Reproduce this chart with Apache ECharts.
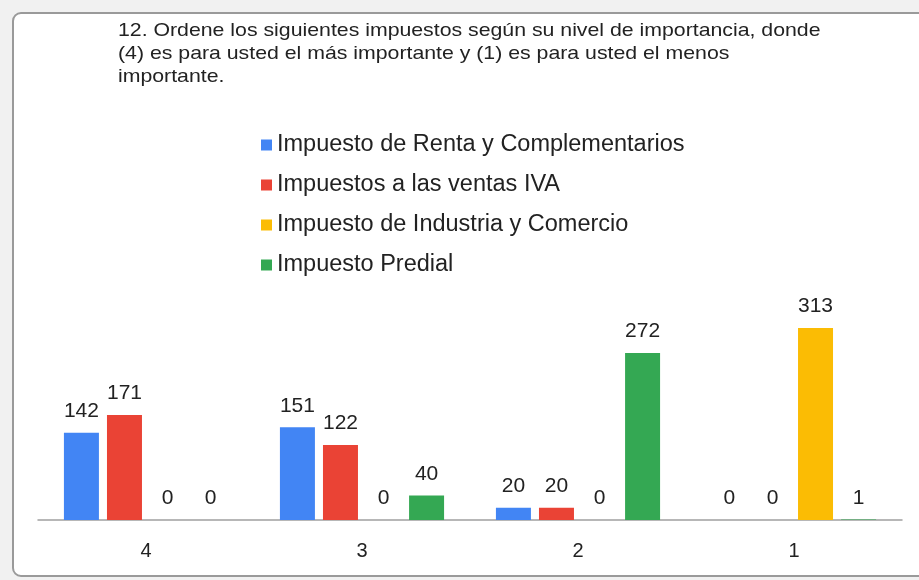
<!DOCTYPE html>
<html>
<head>
<meta charset="utf-8">
<script src="https://cdn.jsdelivr.net/npm/echarts@6/dist/echarts.min.js"></script>
<style>
  html, body { margin: 0; padding: 0; background: #f1f1f1; }
  #chart { width: 919px; height: 580px; }
</style>
</head>
<body>
<div id="chart"></div>
<script>
var categories = ['4', '3', '2', '1'];
var renta = [142, 151, 20, 0];
var iva = [171, 122, 20, 0];
var industria = [0, 0, 0, 313];
var predial = [0, 40, 272, 1];
var seriesNames = [
	'Impuesto de Renta y Complementarios',
	'Impuestos a las ventas IVA',
	'Impuesto de Industria y Comercio',
	'Impuesto Predial'
];
var titleText = '12. Ordene los siguientes impuestos según su nivel de importancia, donde\n(4) es para usted el más importante y (1) es para usted el menos\nimportante.';

var font = '"Liberation Sans", Arial, sans-serif';
var myChart = echarts.init(document.getElementById('chart'));

function barSeries(name, data, color) {
	return {
		name : name,
		type : 'bar',
		data : data,
		barWidth : 35,
		barGap : '23%',
		itemStyle : { color : color },
		label : {
			show : true,
			position : 'top',
			distance : 11,
			fontSize : 21,
			color : '#222',
			fontFamily : font
		}
	};
}

option = {
	backgroundColor : '#f1f1f1',
	animation : false,
	graphic : [ {
		type : 'rect',
		z : -10,
		shape : { x : 13, y : 13, width : 920, height : 563, r : 8 },
		style : { fill : '#fff', stroke : '#9a9a9a', lineWidth : 2 }
	}, {
		type : 'text',
		x : 118,
		y : 19,
		scaleX : 1.15,
		style : {
			text : titleText,
			font : '18.5px ' + font,
			fill : '#222',
			lineHeight : 23,
			verticalAlign : 'top'
		}
	} ],
	legend : {
		orient : 'vertical',
		left : 256,
		top : 128,
		itemWidth : 11,
		itemHeight : 11,
		itemGap : 16,
		icon : 'rect',
		data : seriesNames,
		textStyle : { fontSize : 23.5, color : '#222', fontFamily : font }
	},
	grid : { left : 38, right : 17, top : 288, bottom : 60 },
	xAxis : [ {
		type : 'category',
		data : categories,
		axisLine : { lineStyle : { color : '#a0a0a0', width : 1.5 } },
		axisTick : { show : false },
		axisLabel : { fontSize : 20, color : '#222', margin : 21, fontFamily : font }
	} ],
	yAxis : [ {
		type : 'value',
		min : 0,
		max : 378,
		show : false,
		splitLine : { show : false }
	} ],
	series : [
		barSeries(seriesNames[0], renta, '#4285F4'),
		barSeries(seriesNames[1], iva, '#EA4335'),
		barSeries(seriesNames[2], industria, '#FBBC04'),
		barSeries(seriesNames[3], predial, '#34A853')
	]
};
myChart.setOption(option);
</script>
</body>
</html>
